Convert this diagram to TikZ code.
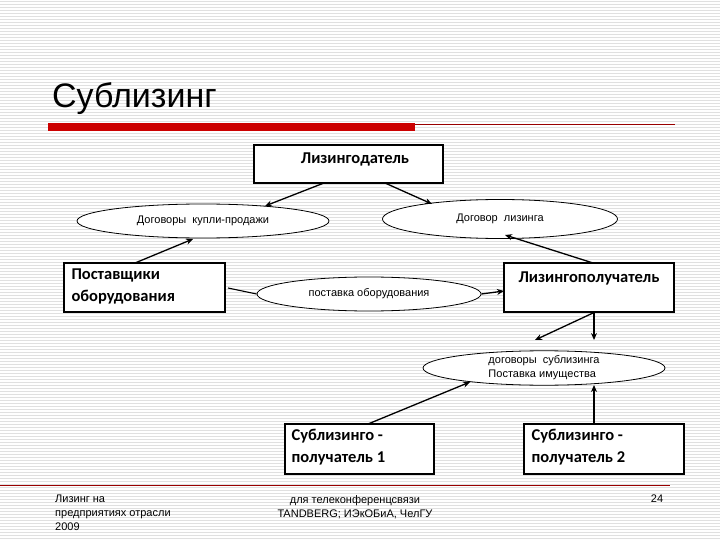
\documentclass[tikz,border=0pt]{standalone}
\usepackage{fontspec}
\setmainfont{Liberation Sans}
\newfontfamily\carlitofont{Carlito}
\usetikzlibrary{shapes.geometric,arrows.meta}
\begin{document}
\begin{tikzpicture}[x=1pt,y=-1pt,
  box/.style={draw,line width=1.1pt,fill=white},
  ell/.style={draw,ellipse,fill=white,inner sep=0pt,line width=0.8pt},
  arr/.style={line width=1.3pt,-{Stealth[length=7pt,width=6pt]}},
  btxt/.style={font=\carlitofont\bfseries\fontsize{16.5}{22}\selectfont,align=left},
  stxt/.style={font=\fontsize{11}{14}\selectfont}]
\useasboundingbox (0,0) rectangle (720,540);
\fill[white] (0,0) rectangle (720,540);
\foreach \y in {1,4,...,540} \draw[black!12,line width=0.5pt] (0,\y) -- (720,\y);
% title
\node[anchor=base west,font=\fontsize{34}{38}\selectfont,inner sep=0pt] (title) at (52,108) {Сублизинг};
\fill[red!80!black] (48,123) rectangle (415,131);
\draw[red!60!black,line width=0.6pt] (415,124) -- (675,124);
% nodes
\draw[box] (254,145) rectangle (443,183);
\node[btxt] (lg) at (355,159) {Лизингодатель};
\coordinate (lgb1) at (324,183); \coordinate (lgb2) at (385,183);
\node[ell,minimum width=252,minimum height=34,stxt] (e1) at (203,221) {Договоры\ \ купли-продажи};
\node[ell,minimum width=235,minimum height=39,stxt] (e2) at (500,219) {Договор\ \ лизинга};
\draw[box] (64,263) rectangle (225,312);
\node[btxt,anchor=north west] (post) at (68,265) {Поставщики\\оборудования};
\node[ell,minimum width=224,minimum height=34,stxt] (e3) at (369,294) {поставка оборудования};
\draw[box] (504,263) rectangle (674,312);
\node[btxt] (lp) at (589,278) {Лизингополучатель};
\node[ell,minimum width=242,minimum height=34,stxt,align=left] (e4) at (544,368) {договоры\ \ сублизинга\\Поставка имущества};
\draw[box] (285,424) rectangle (434,474);
\node[btxt,anchor=north west] (s1) at (288,426) {Сублизинго -\\получатель 1};
\draw[box] (524,424) rectangle (684,474);
\node[btxt,anchor=north west] (s2) at (528,426) {Сублизинго -\\получатель 2};
% connectors
\coordinate (p1) at (135,263); \coordinate (p2) at (228,288);
\coordinate (lpt) at (593,263); \coordinate (lpl) at (504,291);
\coordinate (lpb1) at (593,313); \coordinate (lpb2) at (594,313);
\coordinate (s1t) at (368,424); \coordinate (s2t) at (594,424);
\draw[arr] (lgb1) -- (265,206);
\draw[arr] (lgb2) -- (432,204);
\draw[arr] (p1) -- (193,239);
\draw[arr] (lpt) -- (505,235);
\draw[line width=1.1pt] (p2) -- (e3.west);
\draw[arr] (e3.east) -- (lpl);
\draw[arr] (lpb1) -- (535,340);
\draw[arr] (lpb2) -- (594,340);
\draw[arr] (s1t) -- (470,382);
\draw[arr] (s2t) -- (594,385);
% footer
\draw[red!60!black,line width=0.6pt] (0,485) -- (670,485);
\node[stxt,anchor=north west,align=left,inner sep=0pt] (f1) at (55,495) {Лизинг на\\предприятиях отрасли\\2009};
\node[stxt,anchor=north,align=center,inner sep=0pt] (f2) at (355,495) {для телеконференцсвязи\\TANDBERG; ИЭкОБиА, ЧелГУ};
\node[stxt,anchor=north,inner sep=0pt] (f3) at (657,495) {24};
\end{tikzpicture}
\end{document}
